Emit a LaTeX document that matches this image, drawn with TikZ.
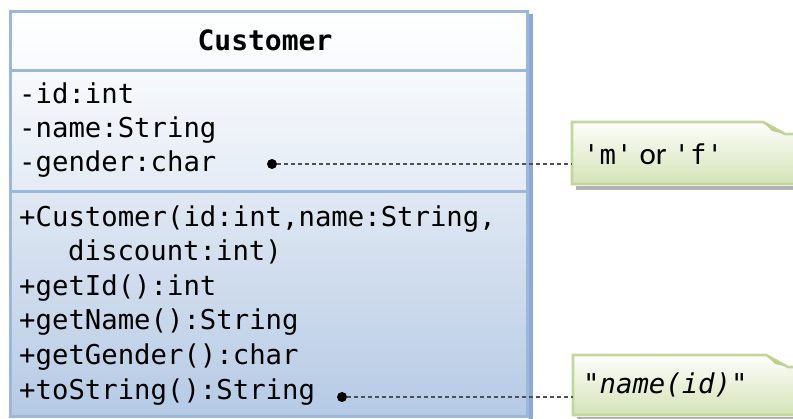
\documentclass[tikz,border=0pt]{standalone}
\usepackage{fontspec}
\setmonofont{DejaVu Sans Mono}
\newfontfamily\notesans{Carlito}
\definecolor{umlborder}{HTML}{9DB7DA}
\definecolor{umlshadow}{HTML}{8FAAD0}
\definecolor{hdtop}{HTML}{FFFFFF}
\definecolor{hdbot}{HTML}{F8FAFD}
\definecolor{attop}{HTML}{F7F9FC}
\definecolor{atbot}{HTML}{E4EBF5}
\definecolor{mttop}{HTML}{E0E8F3}
\definecolor{mtbot}{HTML}{B6CAE5}
\definecolor{noteborder}{HTML}{C3D79C}
\definecolor{notetop}{HTML}{FDFEFB}
\definecolor{notebot}{HTML}{D5E3B8}
\definecolor{notefold}{HTML}{B9CF8C}
\definecolor{dashcol}{HTML}{505050}
\tikzset{
  codetext/.style={anchor=base west,inner sep=0pt,font=\ttfamily\fontsize{27.3}{30}\selectfont,text=black},
  notetext/.style={anchor=base west,inner sep=0pt,font=\ttfamily\fontsize{27.3}{30}\selectfont,text=black},
  pin/.style={circle,fill=black,inner sep=0pt,minimum size=10pt},
  link/.style={draw=dashcol,line width=1.1pt,dash pattern=on 4pt off 3pt},
  boxline/.style={draw=umlborder,line width=3pt},
}
\begin{document}
\begin{tikzpicture}[x=1pt,y=-1pt]
\useasboundingbox (0,0) rectangle (793,419);
% class box fills
\fill[umlshadow] (529,14) rectangle (533,419);
\shade[top color=hdtop,bottom color=hdbot] (10,12) rectangle (527,71);
\shade[top color=attop,bottom color=atbot] (10,71) rectangle (527,192);
\shade[top color=mttop,bottom color=mtbot] (10,192) rectangle (527,417);
\draw[boxline] (10,12) rectangle (527,417);
\draw[boxline] (10,71) -- (527,71);
\draw[boxline] (10,192) -- (527,192);
% header
\node[anchor=base,inner sep=0pt,font=\ttfamily\bfseries\fontsize{28}{30}\selectfont] (title) at (265,51) {Customer};
% attributes
\node[codetext] (a1) at (19,104) {-id:int};
\node[codetext] (a2) at (19,138) {-name:String};
\node[codetext] (a3) at (19,172) {-gender:char};
% methods
\node[codetext] (m1) at (19,227) {+Customer(id:int,name:String,};
\node[codetext] (m2) at (68,261) {discount:int)};
\node[codetext] (m3) at (19,296) {+getId():int};
\node[codetext] (m4) at (19,330) {+getName():String};
\node[codetext] (m5) at (19,365) {+getGender():char};
\node[codetext] (m6) at (19,400) {+toString():String};
% notes
\fill[black!30] (576,186) rectangle (800,190);
\shade[top color=notetop,bottom color=notebot] (572,122) -- (763,122) -- (785,134) -- (800,134) -- (800,184) -- (572,184) -- cycle;
\draw[noteborder,line width=2.6pt] (800,134) -- (785,134) -- (763,122) -- (572,122) -- (572,184) -- (800,184);
\fill[notefold] (763,122) -- (772,131) -- (785,134) -- cycle;
\node[inner sep=0pt,minimum width=1pt] (n1) at (572,164) {};
\node[notetext] (t1) at (583,165) {'m'{\notesans\fontsize{31}{30}\selectfont\ or\ }'f'};
\fill[black!30] (577,417) rectangle (800,421);
\shade[top color=notetop,bottom color=notebot] (573,355) -- (766,355) -- (788,367) -- (800,367) -- (800,415) -- (573,415) -- cycle;
\draw[noteborder,line width=2.6pt] (800,367) -- (788,367) -- (766,355) -- (573,355) -- (573,415) -- (800,415);
\fill[notefold] (766,355) -- (775,364) -- (788,367) -- cycle;
\node[inner sep=0pt,minimum width=1pt] (n2) at (573,397) {};
\node[notetext] (t2) at (583,394) {"\textit{name(id)}"};
% pins and links
\node[pin] (p1) at (272,164) {};
\node[pin] (p2) at (342,397) {};
\draw[link] (p1.east) -- (n1.center);
\draw[link] (p2.east) -- (n2.center);
\end{tikzpicture}
\end{document}
